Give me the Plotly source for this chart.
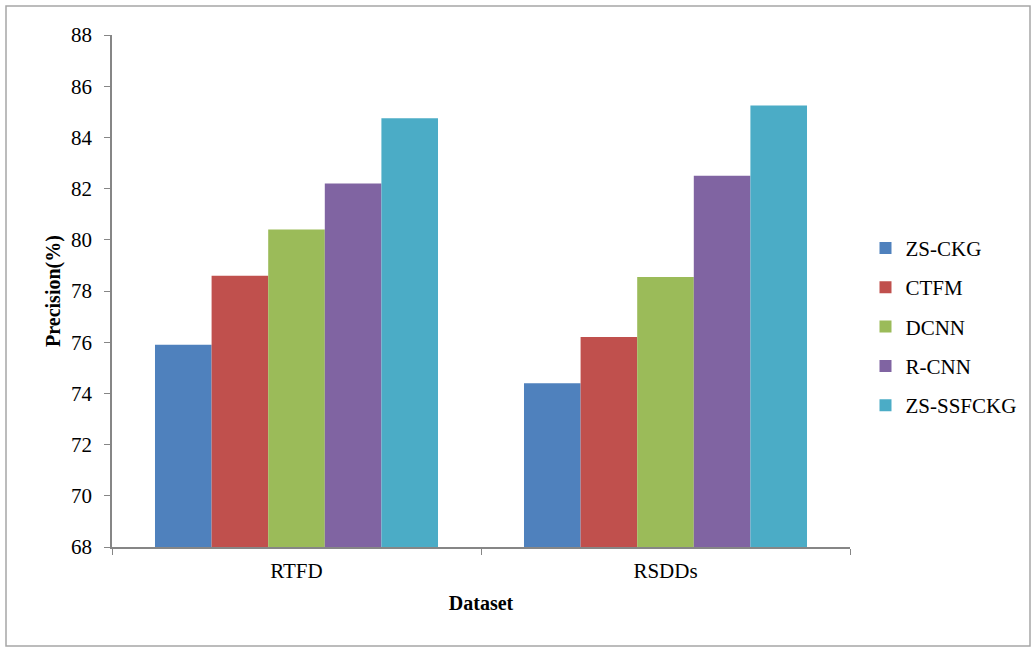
import plotly.graph_objects as go

# Precision (%) of each method on the two datasets
datasets = ["RTFD", "RSDDs"]
methods = ["ZS-CKG", "CTFM", "DCNN", "R-CNN", "ZS-SSFCKG"]
zs_ckg = [75.9, 74.4]
ctfm = [78.6, 76.2]
dcnn = [80.4, 78.55]
r_cnn = [82.2, 82.5]
zs_ssfckg = [84.75, 85.25]
y_ticks = [68, 70, 72, 74, 76, 78, 80, 82, 84, 86, 88]

series = [zs_ckg, ctfm, dcnn, r_cnn, zs_ssfckg]
colors = ["#4F81BD", "#C0504D", "#9BBB59", "#8064A2", "#4BACC6"]

fig = go.Figure()
for name, vals, col in zip(methods, series, colors):
    fig.add_trace(go.Bar(
        x=datasets, y=vals, name=name, legendgroup=name,
        marker=dict(color=col, line=dict(width=0)),
    ))

font_family = "Liberation Serif, Times New Roman, serif"
axis_color = "#868686"
fsize = 21

fig.update_layout(
    width=1034, height=648,
    margin=dict(l=112, r=184, t=35, b=101, autoexpand=False),
    paper_bgcolor="white", plot_bgcolor="white",
    barmode="group", bargap=0.233, bargroupgap=0,
    font=dict(family=font_family, size=fsize, color="black"),
    showlegend=True,
    legend=dict(
        x=1.021, y=0.43, xanchor="left", yanchor="middle",
        font=dict(family=font_family, size=fsize, color="black"),
        tracegroupgap=9, itemwidth=30,
        bgcolor="rgba(0,0,0,0)",
    ),
    xaxis=dict(
        showline=True, linecolor=axis_color, linewidth=1.5,
        ticks="outside", tickson="boundaries", ticklen=6, tickcolor=axis_color,
        tickfont=dict(family=font_family, size=fsize), ticklabelstandoff=4,
        title=dict(text="<b>Dataset</b>", font=dict(family=font_family, size=fsize - 1), standoff=14),
        showgrid=False, zeroline=False,
    ),
    yaxis=dict(
        range=[68, 88], tickvals=y_ticks,
        showline=True, linecolor=axis_color, linewidth=1.5,
        ticks="outside", ticklen=6, tickcolor=axis_color,
        tickfont=dict(family=font_family, size=fsize), ticklabelstandoff=8,
        title=dict(text="<b>Precision(%)</b>", font=dict(family=font_family, size=fsize - 1), standoff=5),
        showgrid=False, zeroline=False,
    ),
)

# Outer frame around the whole chart
fig.add_shape(
    type="rect", xref="paper", yref="paper",
    x0=(6 - 112) / 738, x1=(1030 - 112) / 738,
    y0=(547 - 646) / 512, y1=(547 - 6) / 512,
    line=dict(color="#A6A6A6", width=1.5), fillcolor="rgba(0,0,0,0)",
    layer="below",
)

fig.write_html("out.html")
